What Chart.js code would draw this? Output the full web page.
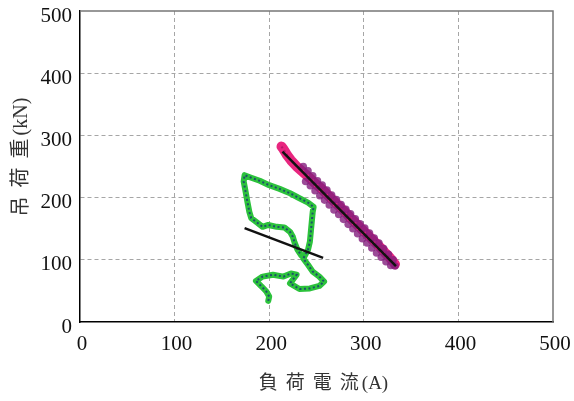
<!DOCTYPE html>
<html>
<head>
<meta charset="utf-8">
<script src="https://cdn.jsdelivr.net/npm/chart.js@4"></script>
<style>
  html, body { margin: 0; padding: 0; background: #fff; }
  canvas { display: block; }
</style>
</head>
<body>
<canvas id="chart" width="574" height="401"></canvas>
<script>
// axis ticks
const xTicks = [0, 100, 200, 300, 400, 500];
const yTicks = [0, 100, 200, 300, 400, 500];

// green path (load vs current)
const greenX = [199, 200, 197, 192, 186, 193, 204, 215, 223, 229, 222, 232, 243, 253, 258, 253, 246, 241, 236,
  241, 243, 244, 245, 246, 247, 241, 232, 222, 211, 200, 190, 181, 174,
  173, 175, 177, 179, 181, 188, 193, 199, 208, 216, 222, 225, 227, 230, 234];
const greenY = [34, 41, 49, 57, 66, 73, 76, 73, 78, 76, 62, 53, 54, 58, 65, 73, 81, 92, 102,
  116, 129, 145, 161, 177, 185, 192, 199, 207, 214, 220, 227, 232, 236,
  226, 210, 193, 177, 167, 159, 153, 156, 153, 152, 145, 137, 127, 116, 107];

// pink band
const pinkX = [213, 215, 217, 219, 221, 223, 226, 229, 232, 235, 238, 241, 244, 247, 250, 254, 258, 262, 266,
  270, 274, 278, 282, 286, 290, 294, 298, 302, 306, 310, 314, 318, 322, 326, 330, 333];
const pinkY = [282, 278, 273, 268, 264, 260, 255, 250, 246, 242, 238, 234, 230, 225, 221, 216, 210, 204, 198,
  192, 186, 180, 174, 167, 161, 155, 149, 143, 137, 131, 125, 119, 112, 106, 99, 93];

// purple points, scattered on both sides of the fit line
const purpleX = [236, 238.5, 241, 243.5, 246, 248.5, 251, 253.5, 256, 258.5, 261, 263.5, 266, 268.5, 271, 273.5,
  276, 278.5, 281, 283.5, 286, 288.5, 291, 293.5, 296, 298.5, 301, 303.5, 306, 308.5, 311, 313.5,
  316, 318.5, 321, 323.5, 326, 328.5, 331, 333];
const purpleY = [250, 226, 243, 219, 235, 211, 227, 203, 220, 196, 212, 188, 204, 180, 197, 173,
  189, 165, 181, 157, 174, 150, 166, 142, 158, 134, 151, 127, 143, 119, 135, 111,
  127, 104, 118, 97, 109, 91, 100, 90];

// fitted lines
const fitPinkX = [214, 334];
const fitPinkY = [274, 90];
const fitGreenX = [174, 257];
const fitGreenY = [151, 103];

const toPoints = (xs, ys) => xs.map((x, i) => ({ x: x, y: ys[i] }));

const serif = '"Liberation Serif", "Times New Roman", serif';
const cjk = '"Liberation Serif", "Noto Sans CJK JP", serif';

// top / right frame and spaced axis titles
const framePlugin = {
  id: "frame",
  afterDraw(chart) {
    const ctx = chart.ctx;
    const a = chart.chartArea;
    ctx.save();
    ctx.strokeStyle = "#777";
    ctx.lineWidth = 1.5;
    ctx.beginPath();
    ctx.moveTo(a.left, a.top);
    ctx.lineTo(a.right, a.top);
    ctx.lineTo(a.right, a.bottom);
    ctx.stroke();
    ctx.restore();

    drawTitle(ctx, "負荷電流", "(A)", 19, 8, (a.left + a.right) / 2 + 7, 384, 0);
    drawTitle(ctx, "吊荷重", "(kN)", 20, 9, 22, 157, -Math.PI / 2);
  }
};

function drawTitle(ctx, cjkPart, unitPart, size, spacing, cx, cy, rot) {
  ctx.save();
  ctx.translate(cx, cy);
  ctx.rotate(rot);
  ctx.fillStyle = "#333";
  ctx.textBaseline = "middle";
  ctx.textAlign = "left";
  ctx.font = size + "px " + cjk;
  ctx.letterSpacing = spacing + "px";
  const w1 = ctx.measureText(cjkPart).width;
  ctx.letterSpacing = "0px";
  const w2 = ctx.measureText(unitPart).width;
  const total = w1 - spacing + 3 + w2;
  let x = -total / 2;
  ctx.letterSpacing = spacing + "px";
  ctx.fillText(cjkPart, x, 0);
  ctx.letterSpacing = "0px";
  ctx.fillText(unitPart, x + w1 - spacing + 3, 0);
  ctx.restore();
}

const gridColor = c => (c.tick && (c.tick.value === 0 || c.tick.value === 500)) ? "rgba(0,0,0,0)" : "#a6a6a6";

new Chart(document.getElementById("chart"), {
  type: "scatter",
  data: {
    datasets: [
      {
        label: "fit pink",
        data: toPoints(fitPinkX, fitPinkY),
        showLine: true,
        borderColor: "#111",
        borderWidth: 2.5,
        pointRadius: 0,
        order: 0
      },
      {
        label: "fit green",
        data: toPoints(fitGreenX, fitGreenY),
        showLine: true,
        borderColor: "#111",
        borderWidth: 2.5,
        pointRadius: 0,
        order: 0
      },
      {
        label: "purple",
        data: toPoints(purpleX, purpleY),
        showLine: false,
        pointRadius: 3.8,
        pointBackgroundColor: "rgba(130,30,125,0.8)",
        pointBorderWidth: 0,
        order: 1
      },
      {
        label: "pink dots",
        data: toPoints(pinkX, pinkY),
        showLine: true,
        borderColor: "rgba(170,20,100,0.8)",
        borderWidth: 2,
        borderDash: [2, 2.5],
        pointRadius: 0,
        order: 2
      },
      {
        label: "pink",
        data: toPoints(pinkX, pinkY),
        showLine: true,
        borderColor: "#e8267f",
        borderWidth: 10,
        borderCapStyle: "round",
        borderJoinStyle: "round",
        pointRadius: 0,
        order: 3
      },
      {
        label: "green dots",
        data: toPoints(greenX, greenY),
        showLine: true,
        borderColor: "#1d4f6b",
        borderWidth: 2,
        borderDash: [2, 2.5],
        pointRadius: 0,
        order: 4
      },
      {
        label: "green",
        data: toPoints(greenX, greenY),
        showLine: true,
        borderColor: "#2cc23c",
        borderWidth: 6,
        borderCapStyle: "round",
        borderJoinStyle: "round",
        pointRadius: 0,
        order: 5
      }
    ]
  },
  options: {
    responsive: false,
    animation: false,
    layout: { padding: { left: 0, right: 21, top: 11, bottom: 0 } },
    plugins: { legend: { display: false }, tooltip: { enabled: false } },
    scales: {
      x: {
        type: "linear",
        min: 0,
        max: 500,
        afterBuildTicks: s => { s.ticks = xTicks.map(v => ({ value: v })); },
        afterFit: s => { s.height = 79; s.paddingLeft = 0; s.paddingRight = 0; },
        grid: { color: gridColor, lineWidth: 1, drawTicks: false },
        border: { display: true, color: "#000", width: 1.5, dash: [4, 3] },
        ticks: { padding: 10, labelOffset: 2, color: "#111", font: { family: serif, size: 21 } }
      },
      y: {
        type: "linear",
        min: 0,
        max: 500,
        afterBuildTicks: s => { s.ticks = yTicks.map(v => ({ value: v })); },
        afterFit: s => { s.width = 80; s.paddingTop = 0; s.paddingBottom = 0; },
        grid: { color: gridColor, lineWidth: 1, drawTicks: false },
        border: { display: true, color: "#000", width: 1.5, dash: [4, 3] },
        ticks: { padding: 8, labelOffset: 5, color: "#111", font: { family: serif, size: 21 } }
      }
    }
  },
  plugins: [framePlugin]
});
</script>
</body>
</html>
